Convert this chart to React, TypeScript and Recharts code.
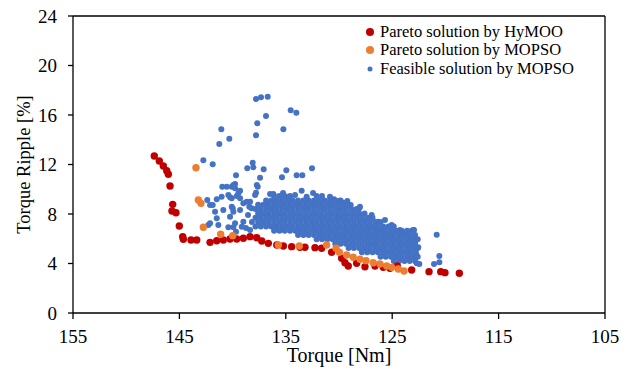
import { Legend, ReferenceLine, Scatter, ScatterChart, XAxis, YAxis } from "recharts";

const FONT = '"Liberation Serif", "Times New Roman", serif';
const RED = "#C00000";
const ORANGE = "#ED7D31";
const BLUE = "#4472C4";

// [torque Nm, torque ripple %]
const hymooPareto: [number, number][] = [
  [147.36, 12.69], [146.89, 12.28], [146.51, 11.88], [146.19, 11.5], [146.04, 11.21],
  [145.88, 10.26], [145.63, 8.78], [145.7, 8.24], [145.32, 8.1], [145.01, 7.03],
  [144.69, 6.17], [144.63, 5.96], [143.91, 5.9], [143.37, 5.9], [142.12, 5.71],
  [141.49, 5.84], [140.87, 5.9], [140.24, 5.98], [139.61, 5.98], [138.99, 6.04],
  [138.36, 6.17], [137.73, 6.08], [137.26, 5.82], [136.64, 5.63], [135.85, 5.49],
  [135.23, 5.41], [134.45, 5.36], [133.67, 5.31], [133.2, 5.31], [132.26, 5.28],
  [131.63, 5.23], [130.69, 4.91], [129.75, 4.42], [129.44, 4.06], [129.13, 3.8],
  [128.34, 4.02], [127.56, 3.74], [126.62, 3.8], [125.84, 3.69], [125.21, 3.61],
  [124.52, 3.8], [123.17, 3.47], [121.54, 3.34], [120.44, 3.34], [120.04, 3.26],
  [118.69, 3.21],
];

const mopsoPareto: [number, number][] = [
  [143.44, 11.74], [143.22, 9.13], [142.97, 8.86], [142.75, 6.93], [141.12, 6.36],
  [139.99, 6.25], [135.7, 5.49], [133.73, 5.41], [131.16, 5.49], [130.28, 5.23],
  [129.97, 4.91], [129.28, 4.69], [128.66, 4.5], [128.03, 4.34], [127.46, 4.23],
  [126.78, 4.06], [126.15, 3.96], [125.52, 3.8], [125.05, 3.69], [124.43, 3.56],
  [123.89, 3.39],
];

// scattered feasible points around the dense cloud
const mopsoFeasibleLoose: [number, number][] = [
  [137.8, 17.29], [137.33, 17.43], [136.7, 17.48], [136.86, 15.92], [137.68, 15.33],
  [134.54, 16.38], [134.01, 16.19], [141.06, 14.84], [135.23, 14.84], [137.8, 14.36],
  [140.31, 14.08], [141.25, 13.66], [142.75, 12.34], [141.87, 12.02], [138.11, 12.15],
  [138.05, 11.77], [138.62, 11.69], [137.08, 11.61], [132.54, 11.69], [134.95, 11.53],
  [139.68, 11.13], [137.42, 10.93], [135.36, 10.97], [133.98, 11.13], [133.45, 11.13],
  [139.77, 10.42], [140.08, 10.21], [140.55, 10.21], [140.97, 10.21], [137.64, 10.21],
  [137.8, 9.72], [142.38, 9.13], [142.12, 8.73], [141.87, 8.73], [141.65, 8.19],
  [141.49, 7.65], [140.87, 8.32], [142.28, 7.11], [141.34, 7.11], [140.24, 7.78],
  [139.99, 8.46], [140.24, 9.35], [139.61, 9.45], [139.46, 9.67], [138.99, 8.86],
  [138.67, 8.99], [138.43, 8.59], [140.4, 6.93], [139.93, 6.93], [139.68, 6.57],
  [133.51, 9.88], [134.92, 9.35], [134.61, 9.19], [136.17, 9.62], [136.48, 9.62],
  [130.85, 9.4], [130.47, 9.19], [129.97, 9.07], [129.6, 8.91], [129.22, 9.05],
  [128.9, 8.73], [128.09, 8.46], [140.4, 9.54], [141.03, 9.4], [141.49, 9.19],
  [140.08, 9.27], [142.12, 7.25], [140.08, 8.59], [139.93, 8.19], [139.3, 8.32],
  [139.77, 7.25], [138.99, 7.38], [139.14, 6.97], [138.36, 8.99], [138.21, 8.46],
  [139.3, 9.27], [139.77, 10.08], [139.93, 10.34], [139.3, 9.88], [137.73, 10.34],
  [137.89, 9.54], [138.55, 7.92], [138.74, 6.87], [138.18, 7.35], [138.36, 6.71],
  [135.26, 9.7], [134.13, 9.54], [132.44, 9.7], [133.04, 9.4],
  [128.03, 8.59], [126.93, 7.92], [126.31, 7.38], [125.68, 7.52], [125.05, 7.11],
  [124.27, 6.71], [123.64, 6.57], [123.02, 6.71], [123.33, 6.17], [122.86, 5.63],
  [122.7, 5.23], [122.86, 4.55], [123.17, 6.65], [122.95, 6.71], [123.49, 6.04],
  [122.55, 5.31], [122.76, 4.82], [122.7, 4.02], [122.45, 3.96],
  [120.82, 6.33], [120.57, 4.61], [121.07, 3.96], [120.57, 4.1],
];

// dense part of the feasible cloud, read row by row: [ripple, torques]
const mopsoFeasibleDense: [number, number[]][] = [
  [9.45, [136.1, 135.6, 135.1, 134.6, 132.1, 131.6]],
  [9.1, [136.85, 136.35, 135.85, 135.35, 134.85, 134.35, 133.85, 133.35, 132.85, 132.35, 131.85, 131.35, 130.85, 130.35, 129.85]],
  [8.75, [137.6, 137.1, 136.6, 136.1, 135.6, 135.1, 134.6, 134.1, 133.6, 133.1, 132.6, 132.1, 131.6, 131.1, 130.6, 130.1, 129.6, 129.1]],
  [8.4, [137.85, 137.35, 136.85, 136.35, 135.85, 135.35, 134.85, 134.35, 133.85, 133.35, 132.85, 132.35, 131.85, 131.35, 130.85, 130.35, 129.85, 129.35, 128.85, 128.35]],
  [8.05, [137.6, 137.1, 136.6, 136.1, 135.6, 135.1, 134.6, 134.1, 133.6, 133.1, 132.6, 132.1, 131.6, 131.1, 130.6, 130.1, 129.6, 129.1, 128.6, 128.1, 127.6]],
  [7.7, [137.85, 137.35, 136.85, 136.35, 135.85, 135.35, 134.85, 134.35, 133.85, 133.35, 132.85, 132.35, 131.85, 131.35, 130.85, 130.35, 129.85, 129.35, 128.85, 128.35, 127.85, 127.35, 126.85]],
  [7.35, [137.6, 137.1, 136.6, 136.1, 135.6, 135.1, 134.6, 134.1, 133.6, 133.1, 132.6, 132.1, 131.6, 131.1, 130.6, 130.1, 129.6, 129.1, 128.6, 128.1, 127.6, 127.1, 126.6, 126.1]],
  [7.0, [137.85, 137.35, 136.85, 136.35, 135.85, 135.35, 134.85, 134.35, 133.85, 133.35, 132.85, 132.35, 131.85, 131.35, 130.85, 130.35, 129.85, 129.35, 128.85, 128.35, 127.85, 127.35, 126.85, 126.35, 125.85, 125.35, 124.85]],
  [6.65, [136.1, 135.6, 135.1, 134.6, 134.1, 133.6, 133.1, 132.6, 132.1, 131.6, 131.1, 130.6, 130.1, 129.6, 129.1, 128.6, 128.1, 127.6, 127.1, 126.6, 126.1, 125.6, 125.1, 124.6, 124.1, 123.6]],
  [6.3, [133.85, 133.35, 132.85, 132.35, 131.85, 131.35, 130.85, 130.35, 129.85, 129.35, 128.85, 128.35, 127.85, 127.35, 126.85, 126.35, 125.85, 125.35, 124.85, 124.35, 123.85, 123.35, 122.85]],
  [5.95, [132.1, 131.6, 131.1, 130.6, 130.1, 129.6, 129.1, 128.6, 128.1, 127.6, 127.1, 126.6, 126.1, 125.6, 125.1, 124.6, 124.1, 123.6, 123.1, 122.6]],
  [5.6, [130.35, 129.85, 129.35, 128.85, 128.35, 127.85, 127.35, 126.85, 126.35, 125.85, 125.35, 124.85, 124.35, 123.85, 123.35, 122.85]],
  [5.25, [129.1, 128.6, 128.1, 127.6, 127.1, 126.6, 126.1, 125.6, 125.1, 124.6, 124.1, 123.6, 123.1, 122.6]],
  [4.9, [127.85, 127.35, 126.85, 126.35, 125.85, 125.35, 124.85, 124.35, 123.85, 123.35, 122.85]],
  [4.55, [126.1, 125.6, 125.1, 124.6, 124.1, 123.6, 123.1, 122.6]],
  [4.2, [124.85, 124.35, 123.85, 123.35, 122.85]],
];

const xTicks = [155, 145, 135, 125, 115, 105];
const yTicks = [0, 4, 8, 12, 16, 20, 24];

const legendItems = [
  { name: "Pareto solution by HyMOO", color: RED, r: 4 },
  { name: "Pareto solution by MOPSO", color: ORANGE, r: 4 },
  { name: "Feasible solution by MOPSO", color: BLUE, r: 2.5 },
];

const toPoints = (arr: [number, number][]) => arr.map(([x, y]) => ({ x, y }));

const feasible = [
  ...toPoints(mopsoFeasibleLoose),
  ...mopsoFeasibleDense.flatMap(([y, xs]) => xs.map((x) => ({ x, y }))),
];

const dot = (r: number, fill: string) => (p: any) => (
  <circle cx={p.cx} cy={p.cy} r={r} fill={fill} />
);

const XTick = ({ x, y, payload }: any) => (
  <text x={x} y={y} dy="0.71em" textAnchor="middle" fill="#000" fontSize={19} style={{ fontFamily: FONT }}>
    {payload.value}
  </text>
);

const YTick = ({ x, y, payload }: any) => (
  <text x={x} y={y} dy="0.355em" textAnchor="end" fill="#000" fontSize={19} style={{ fontFamily: FONT }}>
    {payload.value}
  </text>
);

function LegendBox() {
  return (
    <div style={{ fontFamily: FONT, fontSize: 16.5, color: "#000" }}>
      {legendItems.map((it) => (
        <div key={it.name} style={{ display: "flex", alignItems: "center", height: 18.5 }}>
          <svg width={10} height={10}>
            <circle cx={5} cy={5} r={it.r} fill={it.color} />
          </svg>
          <span style={{ marginLeft: 5, whiteSpace: "nowrap", lineHeight: "18px" }}>{it.name}</span>
        </div>
      ))}
    </div>
  );
}

export default function App() {
  return (
    <div
      style={{
        position: "absolute",
        left: 0,
        top: 0,
        width: 636,
        height: 375,
        background: "#fff",
        fontFamily: FONT,
      }}
    >
      <ScatterChart width={636} height={375} margin={{ top: 16, right: 31, bottom: 7, left: 5 }}>
        <XAxis
          type="number"
          dataKey="x"
          domain={[105, 155]}
          reversed
          ticks={xTicks}
          interval={0}
          height={55}
          tick={<XTick />}
          tickSize={6}
          tickMargin={10.5}
          axisLine={{ stroke: "#000", strokeWidth: 1.3 }}
          tickLine={{ stroke: "#000", strokeWidth: 1.3 }}
          label={{
            value: "Torque [Nm]",
            position: "insideBottom",
            offset: 6,
            style: { fill: "#000", fontSize: 20, fontFamily: FONT },
          }}
        />
        <YAxis
          type="number"
          dataKey="y"
          domain={[0, 24]}
          ticks={yTicks}
          interval={0}
          width={68}
          tick={<YTick />}
          tickSize={5}
          tickMargin={11}
          axisLine={{ stroke: "#000", strokeWidth: 1.3 }}
          tickLine={{ stroke: "#000", strokeWidth: 1.3 }}
          label={{
            value: "Torque Ripple [%]",
            angle: -90,
            position: "insideLeft",
            offset: 18,
            style: { fill: "#000", fontSize: 18.5, fontFamily: FONT, textAnchor: "middle" },
          }}
        />
        <ReferenceLine y={24} stroke="#000" strokeWidth={1.3} />
        <ReferenceLine x={105} stroke="#000" strokeWidth={1.3} />
        <Legend
          layout="horizontal"
          verticalAlign="middle"
          align="center"
          content={() => <LegendBox />}
          wrapperStyle={{ top: 22.5, left: 365, width: 260, height: 56 }}
        />
        <Scatter
          name="Feasible solution by MOPSO"
          data={feasible}
          shape={dot(3, BLUE)}
          isAnimationActive={false}
        />
        <Scatter
          name="Pareto solution by HyMOO"
          data={toPoints(hymooPareto)}
          shape={dot(3.7, RED)}
          isAnimationActive={false}
        />
        <Scatter
          name="Pareto solution by MOPSO"
          data={toPoints(mopsoPareto)}
          shape={dot(3.7, ORANGE)}
          isAnimationActive={false}
        />
      </ScatterChart>
    </div>
  );
}
